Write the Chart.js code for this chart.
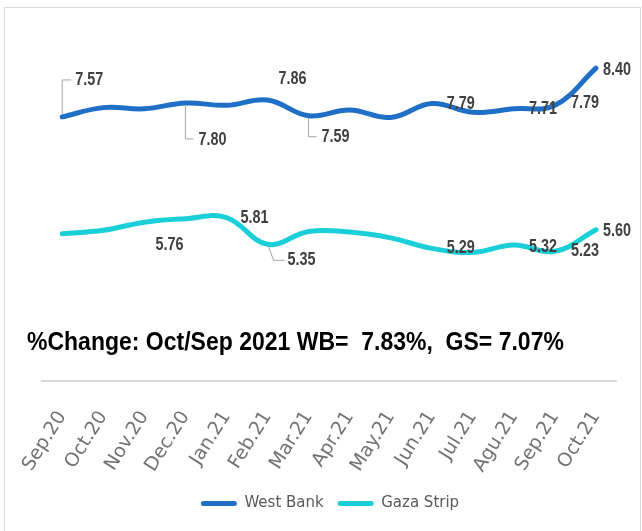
<!DOCTYPE html>
<html>
<head>
<meta charset="utf-8">
<script src="https://cdn.jsdelivr.net/npm/chart.js@4.4.1/dist/chart.umd.min.js"></script>
<style>
  body { margin: 0; background: #fff; }
  #wrap { position: relative; width: 642px; height: 531px; }
  #frame { position: absolute; left: 4px; top: 7px; width: 635px; height: 540px; border: 1px solid #d9d9d9; pointer-events: none; }
  #note { position: absolute; left: 27px; top: 327px; font-family: 'Liberation Sans', Arial, sans-serif; font-weight: bold; font-size: 23px; color: #000; white-space: pre; transform: scaleY(1.1); transform-origin: 0 0; }
</style>
</head>
<body>
<div id="wrap">
  <canvas id="chart-area" width="642" height="531"></canvas>
  <div id="frame"></div>
  <div id="note">%Change: Oct/Sep 2021 WB=  7.83%,  GS= 7.07%</div>
</div>
<script>
var months = ['Sep.20', 'Oct.20', 'Nov.20', 'Dec.20', 'Jan.21', 'Feb.21', 'Mar.21', 'Apr.21', 'May.21', 'Jun.21', 'Jul.21', 'Agu.21', 'Sep.21', 'Oct.21'];
var westBank = [7.54, 7.70, 7.68, 7.78, 7.74, 7.83, 7.56, 7.66, 7.53, 7.77, 7.62, 7.68, 7.74, 8.38];
var gazaStrip = [5.53, 5.59, 5.73, 5.79, 5.81, 5.35, 5.57, 5.56, 5.46, 5.28, 5.21, 5.34, 5.23, 5.60];
// the numbers printed on the chart (only some points carry one)
var westBankLabels = [7.57, null, null, 7.80, null, 7.86, 7.59, null, null, 7.79, null, 7.71, 7.79, 8.40];
var gazaStripLabels = [null, null, null, 5.76, 5.81, 5.35, null, null, null, 5.29, null, 5.32, 5.23, 5.60];

// where each label sits relative to its point: dx, dy, leader line
var placement = [
    {0: {dx: 13, dy: -37, lead: [[0, -3], [0, -37], [9, -37]]},
     3: {dx: 13, dy: 37, lead: [[0, 2], [0, 36], [8, 36]]},
     5: {dx: 11, dy: -21},
     6: {dx: 13, dy: 21, lead: [[0, 2], [0, 21], [8, 21]]},
     9: {dx: 15, dy: 0},
     11: {dx: 15, dy: 0},
     12: {dx: 16, dy: -2},
     13: {dx: 7, dy: 2}},
    {3: {dx: -30, dy: 26},
     4: {dx: 14, dy: 0},
     5: {dx: 20, dy: 16, lead: [[1, 2], [6, 16], [17, 16]]},
     9: {dx: 15, dy: 0},
     11: {dx: 15, dy: 2},
     12: {dx: 16, dy: 0},
     13: {dx: 7, dy: 1}}
];
var valueLabels = [westBankLabels, gazaStripLabels];

var pointLabels = {
    id: 'pointLabels',
    afterDatasetsDraw: function(chart){
        var ctx = chart.ctx;
        ctx.save();
        ctx.font = "bold 18px 'Liberation Sans', Arial, sans-serif";
        ctx.fillStyle = '#404040';
        ctx.textAlign = 'left';
        ctx.textBaseline = 'middle';
        for (var d = 0; d < valueLabels.length; d++) {
            var meta = chart.getDatasetMeta(d);
            valueLabels[d].forEach(function(v, i){
                if (v === null) return;
                var p = meta.data[i];
                var pl = placement[d][i] || {dx: 8, dy: 0};
                if (pl.lead) {
                    ctx.strokeStyle = '#a6a6a6';
                    ctx.lineWidth = 1;
                    ctx.beginPath();
                    pl.lead.forEach(function(q, k){
                        if (k === 0) ctx.moveTo(p.x + q[0], p.y + q[1]);
                        else ctx.lineTo(p.x + q[0], p.y + q[1]);
                    });
                    ctx.stroke();
                }
                // narrow the digits like the original
                ctx.save();
                ctx.translate(p.x + pl.dx, p.y + pl.dy);
                ctx.scale(0.8, 1);
                ctx.fillText(v.toFixed(2), 0, 0);
                ctx.restore();
            });
        }
        ctx.restore();
    }
};

var ctx = document.getElementById('chart-area').getContext('2d');
var config = {
    type: 'line',
    data: {
        labels: months,
        datasets: [{
            label: 'West Bank',
            data: westBank,
            borderColor: '#1f6fc6',
            backgroundColor: '#1f6fc6',
            borderWidth: 5,
            tension: 0.4,
            pointRadius: 0,
            borderCapStyle: 'round'
        }, {
            label: 'Gaza Strip',
            data: gazaStrip,
            borderColor: '#1bcfd9',
            backgroundColor: '#1bcfd9',
            borderWidth: 5,
            tension: 0.4,
            pointRadius: 0,
            borderCapStyle: 'round'
        }]
    },
    options: {
        responsive: false,
        animation: false,
        layout: { padding: { left: 39, right: 21, top: 32, bottom: 10 } },
        plugins: {
            tooltip: { enabled: false },
            legend: {
                position: 'bottom',
                labels: {
                    color: '#595959',
                    font: { family: 'DejaVu Sans', size: 15 },
                    boxWidth: 36,
                    boxHeight: 5,
                    padding: 14,
                    useBorderRadius: true,
                    borderRadius: 2.5,
                    generateLabels: function(chart){
                        return Chart.defaults.plugins.legend.labels.generateLabels(chart).map(function(l){
                            l.lineWidth = 0;
                            return l;
                        });
                    }
                }
            }
        },
        scales: {
            x: {
                offset: true,
                grid: { display: false, drawTicks: false },
                border: { display: true, color: '#d9d9d9', width: 2 },
                ticks: {
                    autoSkip: false,
                    minRotation: 58,
                    maxRotation: 58,
                    padding: 26,
                    color: '#737373',
                    font: { family: 'DejaVu Sans', size: 19 }
                },
                afterFit: function(scale){
                    scale.height = 101;
                }
            },
            y: {
                display: false,
                min: 3,
                max: 9
            }
        }
    },
    plugins: [pointLabels]
};
window.myChart = new Chart(ctx, config);
</script>
</body>
</html>
